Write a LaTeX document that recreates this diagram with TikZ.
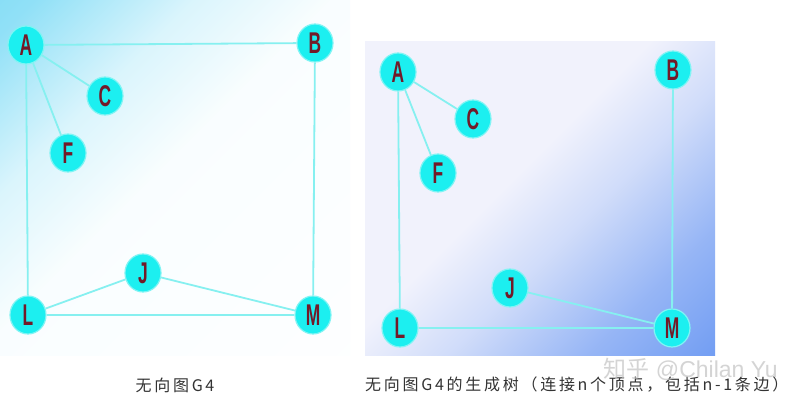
\documentclass[tikz,border=0pt]{standalone}
\usepackage{fontspec}
\setmainfont{Liberation Sans}
\newfontfamily\cjkfont[LetterSpace=17]{Noto Sans CJK SC}
\newfontfamily\wmfont{Noto Sans CJK SC}
\usetikzlibrary{shapes.geometric}
\definecolor{nodefill}{HTML}{1CEFF0}
\definecolor{nodeedge}{HTML}{80F4F4}
\definecolor{edgecol}{HTML}{86F0F0}
\definecolor{labelcol}{HTML}{721A28}
\definecolor{capcol}{HTML}{333333}
\definecolor{cyanbg}{HTML}{6CD6F4}
\definecolor{lavbg}{HTML}{F1F2FC}
\definecolor{bluebg}{HTML}{4C84F0}
\pgfdeclarehorizontalshading{leftbg}{100bp}{color(0bp)=(cyanbg); color(18bp)=(cyanbg!75!white); color(34bp)=(cyanbg!25!white); color(48bp)=(white!96!cyanbg); color(100bp)=(white)}
\pgfdeclarehorizontalshading{rightbg}{100bp}{color(0bp)=(lavbg); color(45bp)=(lavbg); color(57bp)=(lavbg!80!bluebg); color(72bp)=(lavbg!45!bluebg); color(100bp)=(bluebg)}
\tikzset{
  vtx/.style={ellipse, minimum width=36pt, minimum height=38pt, inner sep=0pt,
    fill=nodefill, draw=nodeedge, line width=1.2pt,
    font=\fontsize{30}{30}\selectfont\bfseries, text=labelcol},
  edge/.style={draw=edgecol, line width=1.8pt},
  caption/.style={font=\cjkfont\fontsize{16}{16}\selectfont, text=capcol, inner sep=0pt},
}
\newcommand{\lbl}[1]{\scalebox{0.58}[1]{#1}}
\begin{document}
\begin{tikzpicture}[x=1pt,y=-1pt]
\useasboundingbox (0,0) rectangle (793,404);
\fill[white] (0,0) rectangle (793,404);
% backgrounds
\shade[shading=leftbg, shading angle=-45] (0,0) rectangle (350,355);
\shade[shading=rightbg, shading angle=-45] (365,42) rectangle (715,355);
% left graph
\node[vtx] (A1) at (26,45) {\lbl{A}};
\node[vtx] (B1) at (315,43) {\lbl{B}};
\node[vtx] (C1) at (105,96) {\lbl{C}};
\node[vtx] (F1) at (68,153) {\lbl{F}};
\node[vtx] (J1) at (143,273) {\lbl{J}};
\node[vtx] (L1) at (28,315) {\lbl{L}};
\node[vtx] (M1) at (313,315) {\lbl{M}};
\path[edge] (A1) -- (B1);
\path[edge] (A1) -- (C1);
\path[edge] (A1) -- (F1);
\path[edge] (A1) -- (L1);
\path[edge] (B1) -- (M1);
\path[edge] (L1) -- (J1);
\path[edge] (J1) -- (M1);
\path[edge] (L1) -- (M1);
% right graph
\node[vtx] (A2) at (398,72) {\lbl{A}};
\node[vtx] (B2) at (673,70) {\lbl{B}};
\node[vtx] (C2) at (473,119) {\lbl{C}};
\node[vtx] (F2) at (438,173) {\lbl{F}};
\node[vtx] (J2) at (510,288) {\lbl{J}};
\node[vtx] (L2) at (400,328) {\lbl{L}};
\node[vtx] (M2) at (672,328) {\lbl{M}};
\path[edge] (A2) -- (C2);
\path[edge] (A2) -- (F2);
\path[edge] (A2) -- (L2);
\path[edge] (B2) -- (M2);
\path[edge] (J2) -- (M2);
\path[edge] (L2) -- (M2);
% captions
\node[caption] (cap1) at (175,385) {无向图G4};
\node[caption, anchor=west] (cap2) at (365,385) {无向图G4的生成树（连接n个顶点，包括n-1条边）};
% watermark
\node[font=\fontsize{23}{23}\selectfont, text=gray!45, opacity=0.75, anchor=base east, inner sep=0pt] (wm) at (778,377) {{\wmfont 知乎} @Chilan Yu};
\end{tikzpicture}
\end{document}
